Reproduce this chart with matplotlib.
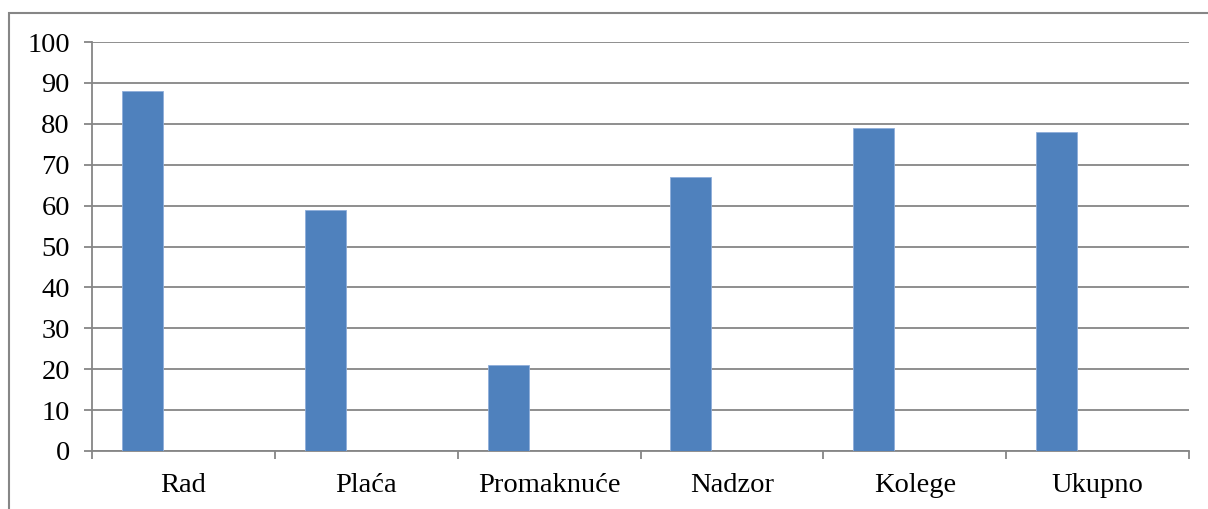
import matplotlib
matplotlib.use("Agg")
import matplotlib.pyplot as plt
from matplotlib.patches import Rectangle
import numpy as np

categories = ["Rad", "Plaća", "Promaknuće", "Nadzor", "Kolege", "Ukupno"]
values = [88, 59, 21, 67, 79, 78]
yticks = [0, 10, 20, 30, 40, 50, 60, 70, 80, 90, 100]

W, H = 1208, 509
fig = plt.figure(figsize=(W / 100, H / 100), dpi=100)
plt.rcParams['font.family'] = ['Liberation Serif', 'DejaVu Serif']

# outer chart border (only top/left visible)
fig.patches.append(Rectangle((9 / W, -0.1), 1.2, 1 - 13 / H + 0.1,
                             transform=fig.transFigure, fill=False,
                             edgecolor='#868686', linewidth=1.5))

ax = fig.add_axes([92 / W, 1 - 451 / H, (1189 - 92) / W, (451 - 42) / H])
grey = '#868686'

x = np.arange(len(categories))
bw = 0.224
ax.bar(x + 0.164 + bw / 2, values, width=bw, color='#4F81BD',
       edgecolor='#8FAEDA', linewidth=0.6, zorder=3)

ax.set_xlim(0, len(categories))
ax.set_ylim(0, 100)
ax.set_yticks(yticks)
ax.set_yticklabels([str(t) for t in yticks], fontsize=20.5)
ax.yaxis.grid(True, color=grey, linewidth=1.3, zorder=0)
ax.set_axisbelow(True)

ax.set_xticks(np.arange(len(categories) + 1))
ax.set_xticklabels([])
ax.set_xticks(x + 0.5, minor=True)
ax.set_xticklabels(categories, minor=True, fontsize=20.5)
ax.tick_params(axis='x', which='minor', length=0, pad=16)
ax.tick_params(axis='x', which='major', length=6, width=1.3, color=grey,
               direction='out')
ax.tick_params(axis='y', length=6, width=1.3, color=grey, pad=10)

for s in ['top', 'right']:
    ax.spines[s].set_visible(False)
for s in ['left', 'bottom']:
    ax.spines[s].set_color(grey)
    ax.spines[s].set_linewidth(1.3)

fig.savefig("out.png", dpi=100)
